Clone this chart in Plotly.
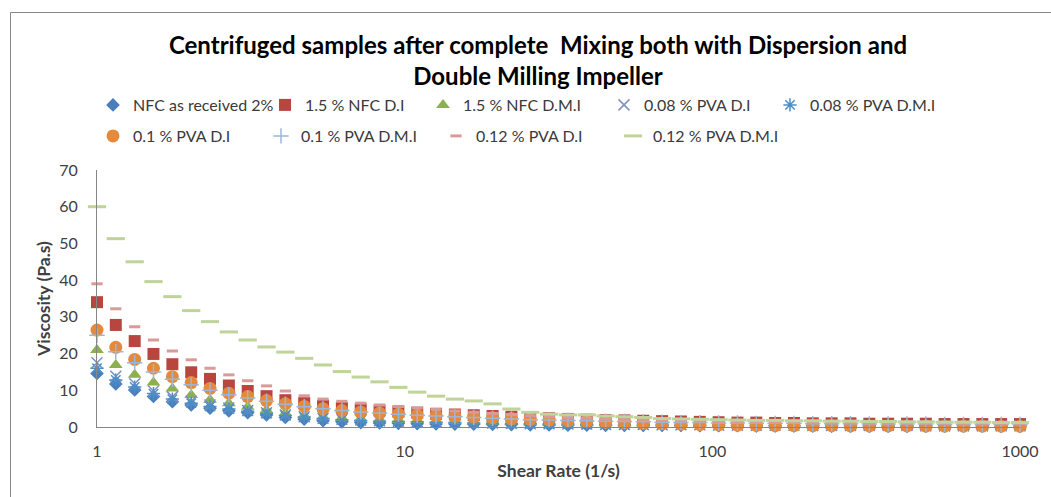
import plotly.graph_objects as go

shear_rate = [1.0, 1.151, 1.326, 1.526, 1.758, 2.024, 2.33, 2.683, 3.089, 3.556,
              4.095, 4.715, 5.429, 6.251, 7.197, 8.286, 9.541, 10.985, 12.649, 14.563,
              16.768, 19.307, 22.23, 25.595, 29.471, 33.932, 39.069, 44.984, 51.795, 59.636,
              68.665, 79.06, 91.03, 104.81, 120.68, 138.95, 159.99, 184.21, 212.1, 244.21,
              281.19, 323.75, 372.76, 429.19, 494.17, 568.99, 655.13, 754.31, 868.51, 1000.0]

nfc_2 = [14.6, 11.7, 10.1, 8.3, 6.9, 6.0, 5.1, 4.4, 3.9, 3.3, 2.6, 2.1, 1.7, 1.4, 1.2, 1.1, 1.0, 0.9, 0.85, 0.8,
         0.75, 0.7, 0.65, 0.6, 0.55, 0.5, 0.5, 0.45, 0.45, 0.4, 0.4, 0.4, 0.35, 0.35, 0.35, 0.3, 0.3, 0.3, 0.3, 0.25,
         0.25, 0.25, 0.25, 0.2, 0.2, 0.2, 0.2, 0.2, 0.15, 0.15]
nfc15_di = [34.0, 27.8, 23.4, 19.9, 17.1, 14.9, 13.1, 11.3, 9.8, 8.4, 7.3, 6.5, 5.8, 5.2, 4.8, 4.5, 4.2, 3.9, 3.6, 3.4,
            3.2, 3.0, 2.8, 2.6, 2.4, 2.2, 2.0, 1.9, 1.8, 1.7, 1.6, 1.5, 1.4, 1.3, 1.2, 1.2, 1.1, 1.1, 1.0, 1.0,
            1.0, 0.9, 0.9, 0.9, 0.9, 0.8, 0.8, 0.8, 0.8, 0.8]
nfc15_dmi = [21.0, 16.9, 14.2, 12.1, 10.5, 8.7, 7.4, 6.5, 5.5, 4.6, 3.8, 3.2, 2.8, 2.5, 2.3, 2.1, 2.0, 1.9, 1.8, 1.7,
             1.6, 1.5, 1.4, 1.3, 1.2, 1.1, 1.0, 1.0, 0.9, 0.9, 0.8, 0.8, 0.8, 0.7, 0.7, 0.7, 0.6, 0.6, 0.6, 0.6,
             0.5, 0.5, 0.5, 0.5, 0.5, 0.4, 0.4, 0.4, 0.4, 0.4]
pva008_di = [17.5, 13.8, 11.8, 9.8, 8.2, 7.0, 6.0, 5.2, 4.5, 3.9, 3.3, 2.8, 2.4, 2.1, 1.9, 1.7, 1.6, 1.5, 1.4, 1.3,
             1.2, 1.1, 1.0, 0.9, 0.9, 0.8, 0.8, 0.7, 0.7, 0.7, 0.6, 0.6, 0.6, 0.5, 0.5, 0.5, 0.5, 0.5, 0.4, 0.4,
             0.4, 0.4, 0.4, 0.4, 0.3, 0.3, 0.3, 0.3, 0.3, 0.3]
pva008_dmi = [16.0, 12.8, 10.9, 9.1, 7.6, 6.5, 5.6, 4.9, 4.3, 3.7, 3.1, 2.7, 2.3, 2.0, 1.8, 1.6, 1.5, 1.4, 1.3, 1.2,
              1.1, 1.0, 0.9, 0.9, 0.8, 0.8, 0.7, 0.7, 0.6, 0.6, 0.6, 0.5, 0.5, 0.5, 0.5, 0.4, 0.4, 0.4, 0.4, 0.4,
              0.4, 0.3, 0.3, 0.3, 0.3, 0.3, 0.3, 0.3, 0.3, 0.3]
pva01_di = [26.4, 21.7, 18.4, 16.0, 13.7, 12.1, 10.5, 9.2, 8.3, 7.2, 6.3, 5.6, 5.0, 4.5, 4.1, 3.8, 3.5, 3.3, 3.1, 2.9,
            2.7, 2.5, 2.3, 2.1, 1.9, 1.7, 1.5, 1.3, 1.1, 1.0, 0.9, 0.8, 0.7, 0.6, 0.5, 0.45, 0.4, 0.4, 0.35, 0.35,
            0.3, 0.3, 0.3, 0.3, 0.25, 0.25, 0.25, 0.25, 0.2, 0.2]
pva01_dmi = [25.0, 20.5, 17.5, 15.0, 13.0, 11.5, 10.0, 8.8, 7.9, 7.0, 6.2, 5.5, 5.0, 4.5, 4.1, 3.8, 3.5, 3.2, 3.0, 2.8,
             2.6, 2.4, 2.2, 2.0, 1.9, 1.8, 1.7, 1.6, 1.5, 1.4, 1.3, 1.2, 1.2, 1.1, 1.1, 1.0, 1.0, 1.0, 0.9, 0.9,
             0.9, 0.8, 0.8, 0.8, 0.8, 0.7, 0.7, 0.7, 0.7, 0.7]
pva012_di = [39.0, 32.2, 27.3, 23.7, 20.7, 18.3, 16.0, 14.2, 12.6, 11.2, 9.8, 8.5, 7.6, 7.0, 6.5, 6.0, 5.6, 5.2, 4.8, 4.4,
             4.0, 3.7, 3.4, 3.1, 2.8, 2.6, 2.4, 2.2, 2.0, 1.9, 1.8, 1.7, 1.6, 1.5, 1.4, 1.4, 1.3, 1.3, 1.2, 1.2,
             1.2, 1.1, 1.1, 1.1, 1.1, 1.0, 1.0, 1.0, 1.0, 1.0]
pva012_dmi = [60.0, 51.3, 45.0, 39.6, 35.5, 31.7, 28.7, 25.9, 23.7, 21.8, 20.4, 18.7, 16.9, 15.1, 13.6, 12.3, 10.8, 9.5, 8.4, 7.6,
              7.1, 6.3, 4.9, 4.0, 3.5, 3.3, 3.3, 3.0, 2.8, 2.6, 2.3, 2.2, 2.1, 2.0, 1.9, 1.8, 1.8, 1.7, 1.7, 1.6,
              1.6, 1.5, 1.5, 1.4, 1.4, 1.3, 1.3, 1.3, 1.2, 1.2]

series_names = ["NFC as received 2%", "1.5 % NFC D.I", "1.5 % NFC D.M.I", "0.08 % PVA D.I",
                "0.08 % PVA D.M.I", "0.1 % PVA D.I", "0.1 % PVA D.M.I", "0.12 % PVA D.I", "0.12 % PVA D.M.I"]
series_values = [nfc_2, nfc15_di, nfc15_dmi, pva008_di, pva008_dmi, pva01_di, pva01_dmi, pva012_di, pva012_dmi]

styles = [
    dict(symbol="diamond", size=10.5, color="#4A7EBB"),
    dict(symbol="square", size=12, color="#B8463F"),
    dict(symbol="triangle-up", size=12, color="#8DB04F"),
    dict(symbol="x-thin", size=11, color="#7F8FBF", line=dict(width=1.5, color="#7F8FBF")),
    dict(symbol="asterisk", size=11, color="#4BACC6", line=dict(width=1.5, color="#4B8FC6")),
    dict(symbol="circle", size=13, color="#E58A3C"),
    dict(symbol="cross-thin", size=11, color="#9EB6D6", line=dict(width=1.5, color="#9EB6D6")),
    dict(symbol="line-ew", size=8, color="#DA9A98", line=dict(width=3, color="#DA9A98")),
    dict(symbol="line-ew", size=13, color="#BFD39A", line=dict(width=3, color="#BFD39A")),
]

# plot area in pixels
L, R, T, B = 97, 1020, 170, 427
W, H = R - L, B - T

def px(xp):
    return (xp - L) / W

def py(yp):
    return (B - yp) / H

# legend text start positions (pixels) and row centres
legend_pos = [(129, 105), (301, 105), (459, 105), (640, 105), (806, 105),
              (129, 136), (297, 136), (472, 136), (649, 136)]

fig = go.Figure()
layout_legends = {}
for i, (name, vals, st) in enumerate(zip(series_names, series_values, styles)):
    lname = "legend" if i == 0 else f"legend{i + 1}"
    fig.add_trace(go.Scatter(x=shear_rate, y=vals, mode="markers", name=name,
                             marker=st, legend=lname, cliponaxis=False, showlegend=True))
    tx, ty = legend_pos[i]
    layout_legends[lname] = dict(x=px(tx - 36), y=py(ty), xanchor="left", yanchor="middle",
                                 bgcolor="rgba(0,0,0,0)", borderwidth=0, visible=True,
                                 font=dict(family="Lato", size=16, color="#3A3A3A"))

fig.update_layout(
    width=1051, height=497,
    showlegend=True,
    margin=dict(l=L, r=1051 - R, t=T, b=497 - B),
    paper_bgcolor="white", plot_bgcolor="white",
    font=dict(family="Lato", color="#404040"),
    title=dict(text="Centrifuged samples after complete  Mixing both with Dispersion and<br>Double Milling Impeller",
               x=538 / 1051, xref="container", xanchor="center", y=1 - 54 / 497, yref="container",
               yanchor="middle", font=dict(family="Lato", size=24, color="#000000", weight="bold")),
    xaxis=dict(type="log", range=[0, 3], tickvals=[1, 10, 100, 1000], ticktext=["1", "10", "100", "1000"],
               showgrid=False, zeroline=False, showline=True, linecolor="#868686", linewidth=1,
               ticks="", ticklabelstandoff=10, tickfont=dict(size=16, color="#404040"),
               title=dict(text="Shear Rate (1/s)", font=dict(size=17.5, color="#404040", weight="bold"), standoff=5)),
    yaxis=dict(range=[0, 70], dtick=10, showgrid=False, zeroline=False, showline=True,
               linecolor="#868686", linewidth=1, ticks="", ticklabelstandoff=15,
               tickfont=dict(size=16, color="#404040"),
               title=dict(text="Viscosity (Pa.s)", font=dict(size=17.5, color="#404040", weight="bold"), standoff=4)),
    shapes=[dict(type="rect", xref="paper", yref="paper", x0=px(10.5), x1=px(1070), y0=py(520), y1=py(12.5),
                 line=dict(color="#878787", width=1), fillcolor="rgba(0,0,0,0)", layer="below")],
    **layout_legends,
)

fig.write_html("out.html")
